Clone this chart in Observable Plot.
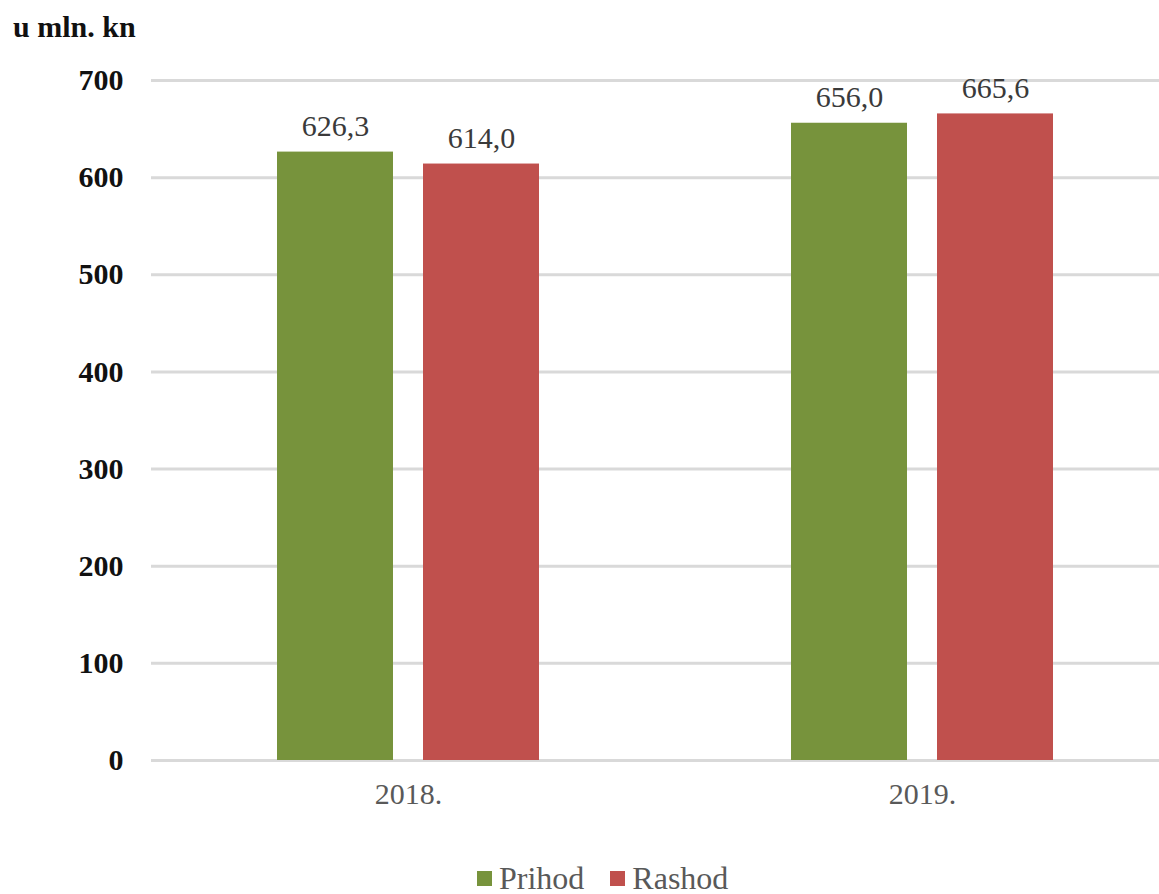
<!DOCTYPE html>
<html><head><meta charset="utf-8">
<script src="https://cdn.jsdelivr.net/npm/d3@7"></script>
<script src="https://cdn.jsdelivr.net/npm/@observablehq/plot@0.6"></script>
<style>
html,body{margin:0;padding:0;background:#fff}
body{width:1159px;height:894px;overflow:hidden;position:relative;font-family:"Liberation Serif","Times New Roman",serif}
#unit{position:absolute;left:13px;top:10px;font-size:30px;font-weight:bold;color:#111}
#chart{position:absolute;left:0;top:0}
#chart svg, #chart svg text{font-family:"Liberation Serif","Times New Roman",serif !important}
#legend{position:absolute;left:477px;top:860px;display:flex;align-items:center;font-size:32px;color:#595959}
#legend .sw{display:inline-block;width:15px;height:15px;margin-right:7px}
#legend .item{display:flex;align-items:center;margin-right:26px}
</style></head>
<body>
<div id="chart"></div>
<div id="unit">u mln. kn</div>
<div id="legend"></div>
<script>
const years = ["2018.", "2019."];
const series = ["Prihod", "Rashod"];
const prihod = [626.3, 656.0];
const rashod = [614.0, 665.6];
const yTicks = [0, 100, 200, 300, 400, 500, 600, 700];
const colors = ["#77933C", "#C0504D"];

const rows = [];
years.forEach((yr, i) => {
  rows.push({year: yr, series: "Prihod", value: prihod[i]});
  rows.push({year: yr, series: "Rashod", value: rashod[i]});
});

const fmt = v => v.toFixed(1).replace(".", ",");

const chart = Plot.plot({
  width: 1159,
  height: 845,
  marginLeft: 151,
  marginRight: -20,
  marginTop: 80,
  marginBottom: 85,
  style: {background: "transparent", overflow: "visible", fontFamily: "'Liberation Serif', 'Times New Roman', serif"},
  fx: {domain: years, padding: 0, label: null, axis: null},
  x: {domain: series, paddingInner: 0.2055, paddingOuter: 0.863, axis: null},
  y: {domain: [0, 700], axis: null},
  color: {domain: series, range: colors},
  marks: [
    Plot.ruleY(yTicks, {stroke: "#d9d9d9", strokeWidth: 3}),
    Plot.barY(rows, {fx: "year", x: "series", y: "value", fill: "series"}),
    Plot.text(rows, {fx: "year", x: "series", y: "value", text: d => fmt(d.value),
      lineAnchor: "bottom", dy: -16, fill: "#3a3a3a", fontSize: 30}),
    Plot.axisY({ticks: yTicks, tickSize: 0, tickPadding: 28, fontSize: 30, fontWeight: "bold", fill: "#111", label: null}),
    Plot.axisFx({anchor: "bottom", tickSize: 0, tickPadding: 22, fontSize: 30, fill: "#595959", label: null})
  ]
});
document.getElementById("chart").appendChild(chart);

const legend = document.getElementById("legend");
series.forEach((s, i) => {
  const item = document.createElement("span");
  item.className = "item";
  const sw = document.createElement("span");
  sw.className = "sw";
  sw.style.background = colors[i];
  item.appendChild(sw);
  item.appendChild(document.createTextNode(s));
  legend.appendChild(item);
});
</script>
</body></html>
